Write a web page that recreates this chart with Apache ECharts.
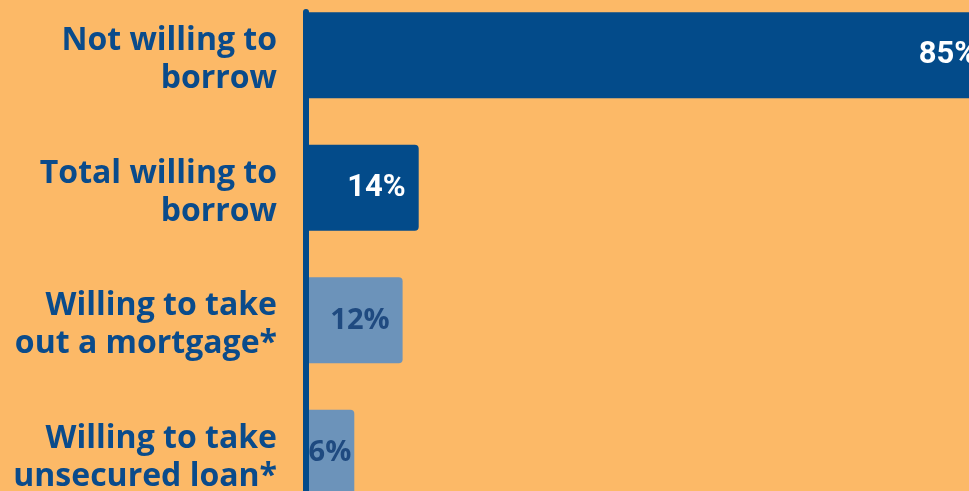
<!DOCTYPE html>
<html>
<head>
<meta charset="utf-8">
<script src="https://cdn.jsdelivr.net/npm/echarts@6/dist/echarts.min.js"></script>
<style>
  html, body { margin: 0; padding: 0; background: #FCB967; }
  #chart { width: 969px; height: 491px; }
</style>
</head>
<body>
<div id="chart"></div>
<script>
// Survey answers about willingness to borrow (share of respondents, %)
const categories = [
  'Not willing to\nborrow',
  'Total willing to\nborrow',
  'Willing to take\nout a mortgage*',
  'Willing to take\nunsecured loan*'
];
const values = [85, 14, 12, 6];
const barColors = ['#034B8A', '#034B8A', '#6C93BA', '#6C93BA'];
const labelColors = ['#FFFFFF', '#FFFFFF', '#1F4A80', '#1F4A80'];
const labelFonts = ['Roboto', 'Roboto', 'Open Sans', 'Open Sans'];

const DARK = '#034B8A';

const barData = values.map((v, i) => ({
  value: v,
  itemStyle: { color: barColors[i] },
  label: {
    color: labelColors[i],
    fontFamily: labelFonts[i],
    fontSize: labelFonts[i] === 'Roboto' ? 31 : 29,
    distance: v < 8 ? 3 : 13
  }
}));

const chart = echarts.init(document.getElementById('chart'));
chart.setOption({
  backgroundColor: '#FCB967',
  animation: false,
  grid: [
    // bars (the plot runs past the right and bottom edges of the canvas)
    { left: 306, right: -142, top: -11, bottom: -28, outerBoundsMode: 'none', containLabel: false },
    // vertical baseline starting at the top of the first bar
    { left: 306, right: -142, top: 12, bottom: -28, outerBoundsMode: 'none', containLabel: false }
  ],
  xAxis: [
    { type: 'value', gridIndex: 0, min: 0, max: 100, show: false },
    { type: 'value', gridIndex: 1, min: 0, max: 100, show: false }
  ],
  yAxis: [
    {
      type: 'category',
      gridIndex: 0,
      inverse: true,
      data: categories,
      axisLine: { show: false },
      axisTick: { show: false },
      splitLine: { show: false },
      axisLabel: {
        margin: 29,
        align: 'right',
        // a thin spacer line on top nudges the two-line block down a little
        formatter: v => '{sp| }\n' + v.split('\n').map(l => '{t|' + l + '}').join('\n'),
        rich: {
          sp: { lineHeight: 10, fontSize: 8 },
          t: {
            color: '#0A4B8B',
            fontFamily: 'Open Sans',
            fontWeight: 700,
            fontSize: 32,
            lineHeight: 38,
            align: 'right'
          }
        }
      }
    },
    {
      type: 'category',
      gridIndex: 1,
      data: [],
      z: 5,
      axisLine: { show: true, lineStyle: { color: DARK, width: 6 } },
      axisTick: { show: false },
      axisLabel: { show: false },
      splitLine: { show: false }
    }
  ],
  series: [
    {
      type: 'bar',
      xAxisIndex: 0,
      yAxisIndex: 0,
      barWidth: 86,
      data: barData,
      itemStyle: { borderRadius: [0, 4, 4, 0] },
      label: {
        show: true,
        position: 'insideRight',
        formatter: '{c}%',
        fontWeight: 700
      }
    }
  ]
});
</script>
</body>
</html>
